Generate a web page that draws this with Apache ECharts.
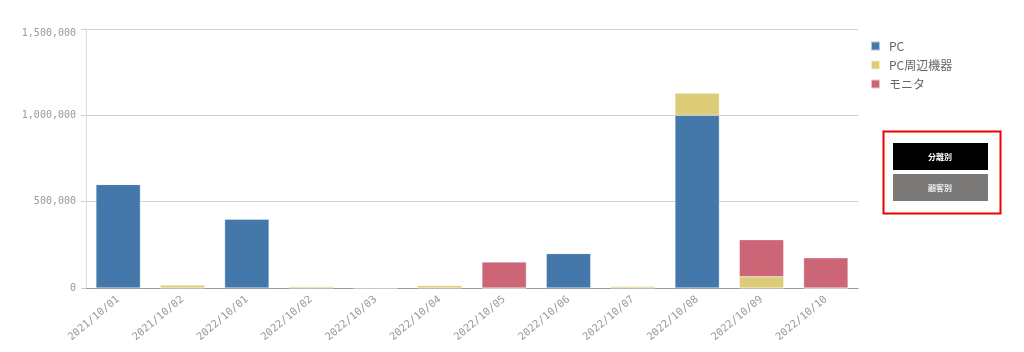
<!DOCTYPE html>
<html><head><meta charset="utf-8">
<script src="https://cdn.jsdelivr.net/npm/echarts@6/dist/echarts.min.js"></script>
<style>html,body{margin:0;padding:0;background:#fff}#c{width:1024px;height:352px}</style>
</head><body><div id="c"></div>
<script>
const categories = ['2021/10/01','2021/10/02','2022/10/01','2022/10/02','2022/10/03','2022/10/04','2022/10/05','2022/10/06','2022/10/07','2022/10/08','2022/10/09','2022/10/10'];
const pcValues =         [600000, 0, 400000, 0, 0, 0, 0, 200000, 0, 1000000, 0, 0];
const peripheralValues = [0, 18000, 0, 8000, 2000, 15000, 0, 0, 10000, 130000, 65000, 0];
const monitorValues =    [0, 0, 0, 0, 0, 0, 150000, 0, 0, 0, 215000, 175000];
const seriesNames = ['PC', 'PC周辺機器', 'モニタ'];
const yTicks = [0, 500000, 1000000, 1500000];
const buttonLabels = ['分離別', '顧客別'];

const chart = echarts.init(document.getElementById('c'));
const mono = 'DejaVu Sans Mono';
const colors = ['#4477aa', '#ddcc77', '#cc6677'];
const mk = (name, data, i) => ({
  name, type: 'bar', stack: 'total', data, barCategoryGap: '31%',
  itemStyle: { color: colors[i], borderColor: 'rgba(255,255,255,0.6)', borderWidth: 0.5 },
  emphasis: { disabled: true }
});
const yMax = yTicks[yTicks.length - 1];
chart.setOption({
  animation: false,
  grid: { left: 86, right: 166, top: 29, bottom: 64 },
  legend: {
    orient: 'vertical', left: 865, top: 35, itemWidth: 9, itemHeight: 9, itemGap: 7,
    icon: 'rect', textStyle: { color: '#666', fontSize: 12, fontFamily: 'Noto Sans CJK JP', padding: [0, 0, 0, 4] },
    data: seriesNames
  },
  xAxis: {
    type: 'category', data: categories,
    axisLine: { lineStyle: { color: '#999' } },
    axisTick: { show: false },
    axisLabel: { rotate: 40, color: '#999', fontSize: 10.5, fontFamily: mono, margin: 10, interval: 0 }
  },
  yAxis: {
    type: 'value', min: yTicks[0], max: yMax, interval: 500000,
    axisLine: { show: true, lineStyle: { color: '#ddd' } },
    axisTick: { show: true, length: 5, lineStyle: { color: '#ccc' } },
    splitLine: { lineStyle: { color: '#d0d0d0' } },
    axisLabel: { color: '#999', fontSize: 10, fontFamily: mono, margin: 10,
      formatter: v => v === yMax ? '{t|' + v.toLocaleString('en-US') + '}' : v.toLocaleString('en-US'),
      rich: { t: { color: '#999', fontSize: 10, fontFamily: mono, padding: [9, 0, 0, 0] } } }
  },
  series: [mk(seriesNames[0], pcValues, 0), mk(seriesNames[1], peripheralValues, 1), mk(seriesNames[2], monitorValues, 2)],
  graphic: [
    { type: 'rect', left: 881, top: 129, shape: { width: 117, height: 82 }, style: { fill: 'none', stroke: '#ee0000', lineWidth: 2 } },
    { type: 'rect', left: 893, top: 143, shape: { width: 95, height: 27 }, style: { fill: '#000' } },
    { type: 'text', x: 940, y: 157, style: { text: buttonLabels[0], fill: '#fff', font: 'bold 8px "Noto Sans CJK JP"', textAlign: 'center', textVerticalAlign: 'middle' } },
    { type: 'rect', left: 893, top: 174, shape: { width: 95, height: 27 }, style: { fill: '#7b7977' } },
    { type: 'text', x: 940, y: 188, style: { text: buttonLabels[1], fill: '#eee', font: 'bold 8px "Noto Sans CJK JP"', textAlign: 'center', textVerticalAlign: 'middle' } }
  ]
});
</script></body></html>
